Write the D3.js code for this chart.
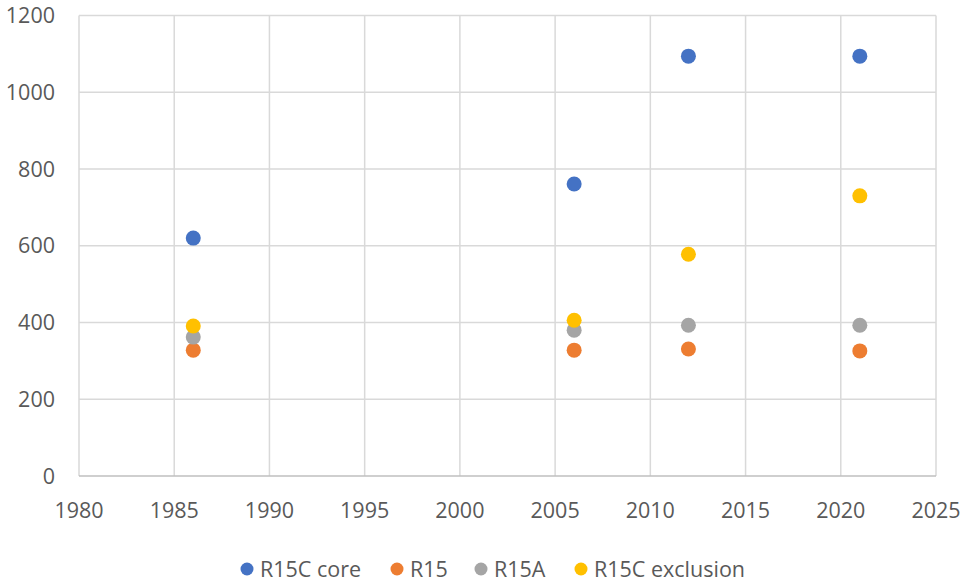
<!DOCTYPE html>
<html>
<head>
<meta charset="utf-8">
<script src="https://cdn.jsdelivr.net/npm/d3@7"></script>
<style>
  body { margin: 0; background: #fff; }
  text { font-family: "Open Sans", "Noto Sans", sans-serif; fill: #595959; }
</style>
</head>
<body>
<div id="chart"></div>
<script>
// ---------- Data ----------
const seriesNames = ["R15C core", "R15", "R15A", "R15C exclusion"];
const seriesColors = ["#4472C4", "#ED7D31", "#A5A5A5", "#FFC000"];
const years = [1986, 2006, 2012, 2021];
const r15cCore = [620, 761, 1094, 1094];
const r15 = [328, 328, 331, 326];
const r15a = [362, 380, 393, 393];
const r15cExclusion = [391, 406, 578, 730];
const xTicks = [1980, 1985, 1990, 1995, 2000, 2005, 2010, 2015, 2020, 2025];
const yTicks = [0, 200, 400, 600, 800, 1000, 1200];

const seriesValues = [r15cCore, r15, r15a, r15cExclusion];

// ---------- Layout ----------
const width = 969, height = 584;
const margin = { top: 15.5, right: 33, bottom: 108, left: 79 };
const fontSize = "21.5px";

const svg = d3.select("#chart").append("svg")
  .attr("width", width)
  .attr("height", height);

const x = d3.scaleLinear()
  .domain([1980, 2025])
  .range([margin.left, width - margin.right]);

const y = d3.scaleLinear()
  .domain([0, 1200])
  .range([height - margin.bottom, margin.top]);

// ---------- Grid ----------
svg.append("g")
  .selectAll("line.h")
  .data(yTicks.filter(d => d > 0))
  .join("line")
  .attr("x1", margin.left).attr("x2", width - margin.right)
  .attr("y1", d => y(d)).attr("y2", d => y(d))
  .attr("stroke", "#d9d9d9").attr("stroke-width", 1.5);

svg.append("g")
  .selectAll("line.v")
  .data(xTicks)
  .join("line")
  .attr("x1", d => x(d)).attr("x2", d => x(d))
  .attr("y1", y(0)).attr("y2", y(1200))
  .attr("stroke", "#d9d9d9").attr("stroke-width", 1.5);

// bottom axis line
svg.append("line")
  .attr("x1", margin.left).attr("x2", width - margin.right)
  .attr("y1", y(0)).attr("y2", y(0))
  .attr("stroke", "#bfbfbf").attr("stroke-width", 1.5);

// ---------- Tick labels ----------
svg.append("g")
  .selectAll("text")
  .data(yTicks)
  .join("text")
  .attr("x", 55)
  .attr("y", d => y(d))
  .attr("dy", "0.35em")
  .attr("text-anchor", "end")
  .style("font-size", fontSize)
  .text(d => d);

svg.append("g")
  .selectAll("text")
  .data(xTicks)
  .join("text")
  .attr("x", d => x(d))
  .attr("y", 518)
  .attr("text-anchor", "middle")
  .style("font-size", fontSize)
  .text(d => d);

// ---------- Points ----------
seriesValues.forEach((vals, i) => {
  svg.append("g")
    .selectAll("circle")
    .data(vals.map((v, j) => ({ year: years[j], value: v })))
    .join("circle")
    .attr("cx", d => x(d.year))
    .attr("cy", d => y(d.value))
    .attr("r", 7.5)
    .attr("fill", seriesColors[i]);
});

// ---------- Legend ----------
const legendX = [247, 397, 481, 581];
const legend = svg.append("g");
seriesNames.forEach((name, i) => {
  legend.append("circle")
    .attr("cx", legendX[i]).attr("cy", 569)
    .attr("r", 6.5)
    .attr("fill", seriesColors[i]);
  legend.append("text")
    .attr("x", legendX[i] + 13).attr("y", 569)
    .attr("dy", "0.35em")
    .style("font-size", fontSize)
    .text(name);
});
</script>
</body>
</html>
